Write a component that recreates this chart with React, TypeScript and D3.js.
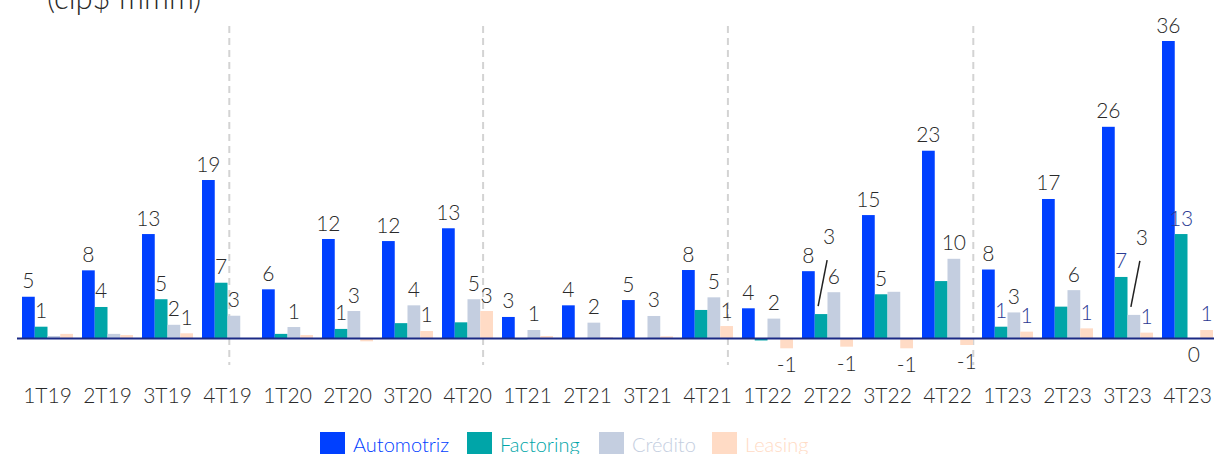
import React from "react";
import * as d3 from "d3";

const quarters = ["1T19","2T19","3T19","4T19","1T20","2T20","3T20","4T20","1T21","2T21","3T21","4T21","1T22","2T22","3T22","4T22","1T23","2T23","3T23","4T23"];
const seriesNames = ["Automotriz","Factoring","Crédito","Leasing"];
const automotriz = [5.0,8.2,12.6,19.15,5.9,12.0,11.75,13.3,2.55,3.96,4.6,8.24,3.6,8.1,14.9,22.7,8.3,16.85,25.6,36.0];
const factoring = [1.37,3.76,4.7,6.7,0.5,1.1,1.8,1.9,-0.15,0,0,3.4,-0.3,2.9,5.3,6.9,1.37,3.8,7.4,12.6];
const credito = [0.24,0.5,1.6,2.7,1.33,3.27,3.96,4.7,0.97,1.86,2.67,4.93,2.35,5.55,5.6,9.6,3.1,5.8,2.8,0];
const leasing = [0.5,0.36,0.57,0,0.36,-0.4,0.85,3.27,0.24,0.1,0.2,1.45,-1.25,-1.05,-1.25,-0.85,0.77,1.17,0.65,0.97];
// label mode per bar: 0 none, 1 label, 2 highlighted label, 3 label with leader line
const autoLabels = [1,1,1,1,1,1,1,1,1,1,1,1,1,1,1,1,1,1,1,1];
const factLabels = [1,1,1,1,0,1,0,0,0,0,0,0,0,3,1,0,2,0,2,2];
const credLabels = [0,0,1,1,1,1,1,1,1,1,1,1,1,1,0,1,1,1,3,1];
const leasLabels = [0,0,1,0,0,0,1,1,0,0,0,1,1,1,1,1,2,2,2,2];
const separators = [3.53, 7.76, 11.84, 15.93]; // position in quarter units
const yTop = 36;
const title = "(clp$ mmm)";

const colors = ["#0040FF", "#00A5A8", "#C4CEE0", "#FFDBC5"];
const W = 1214, H = 454;
const FONT = "'Lato Light', Lato, 'Open Sans', sans-serif";

export default function App() {
  const seriesVals = [automotriz, factoring, credito, leasing];
  const seriesLabels = [autoLabels, factLabels, credLabels, leasLabels];
  const x = d3.scaleBand<string>().domain(quarters).range([17.5, 1217.5]).paddingInner(0.15).paddingOuter(0.075);
  const xs = d3.scaleBand<string>().domain(seriesNames).range([0, x.bandwidth()]);
  const y = d3.scaleLinear().domain([0, yTop]).range([338, 41]);
  const qx = d3.scaleLinear().domain([0, quarters.length]).range([17.5, 1217.5]);
  const base = y(0);

  const bars: any[] = [];
  const labels: any[] = [];
  seriesNames.forEach((s, si) => {
    seriesVals[si].forEach((v, qi) => {
      const q = quarters[qi];
      const bx = (x(q) as number) + (xs(s) as number);
      const bw = xs.bandwidth();
      const top = Math.min(y(v), base);
      const h = Math.abs(y(v) - base);
      bars.push(<rect key={`b${si}-${qi}`} x={bx} y={top} width={bw} height={h} fill={colors[si]} />);
      const mode = seriesLabels[si][qi];
      if (mode) {
        const cx = bx + bw / 2;
        const txt = String(Math.round(v) === 0 ? 0 : Math.round(v));
        const col = mode === 2 ? "#2B3A93" : "#2a2a2a";
        if (mode === 3) {
          labels.push(<line key={`ll${si}-${qi}`} x1={cx - 3} y1={y(v) - 8} x2={cx + 6} y2={y(v) - 54} stroke="#222" strokeWidth={1.5} />);
          labels.push(<text key={`l${si}-${qi}`} x={cx + 8} y={y(v) - 70} textAnchor="middle" fontSize={21} fill={col}>{txt}</text>);
        } else if (v > 0) {
          labels.push(<text key={`l${si}-${qi}`} x={cx} y={y(v) - 8.5} textAnchor="middle" fontSize={21} fill={col}>{txt}</text>);
        } else {
          const bot = Math.max(y(v), base);
          labels.push(<text key={`l${si}-${qi}`} x={cx} y={bot + 24} textAnchor="middle" fontSize={21} fill={col}>{txt}</text>);
        }
      }
    });
  });

  const legendX = [320, 467, 599, 712];

  return (
    <svg width={W} height={H} style={{ position: "absolute", left: 0, top: 0, background: "#fff" }} fontFamily={FONT} fontWeight={300}>
      <text x={47} y={9} fontSize={31} fill="#2a2a2a">{title}</text>
      {separators.map((s, i) => (
        <line key={`s${i}`} x1={qx(s)} x2={qx(s)} y1={26} y2={365} stroke="#D3D3D3" strokeWidth={2} strokeDasharray="7 5" />
      ))}
      {bars}
      <line x1={17} x2={1214} y1={base + 0.5} y2={base + 0.5} stroke="#1B2A85" strokeWidth={2} />
      {labels}
      {quarters.map((q) => (
        <text key={q} x={(x(q) as number) + x.bandwidth() / 2} y={403} textAnchor="middle" fontSize={21} fill="#2a2a2a">{q}</text>
      ))}
      {seriesNames.map((s, i) => (
        <g key={s}>
          <rect x={legendX[i]} y={432} width={25} height={25} fill={colors[i]} />
          <text x={legendX[i] + 33} y={452} fontSize={20} fill={colors[i]}>{s}</text>
        </g>
      ))}
    </svg>
  );
}
